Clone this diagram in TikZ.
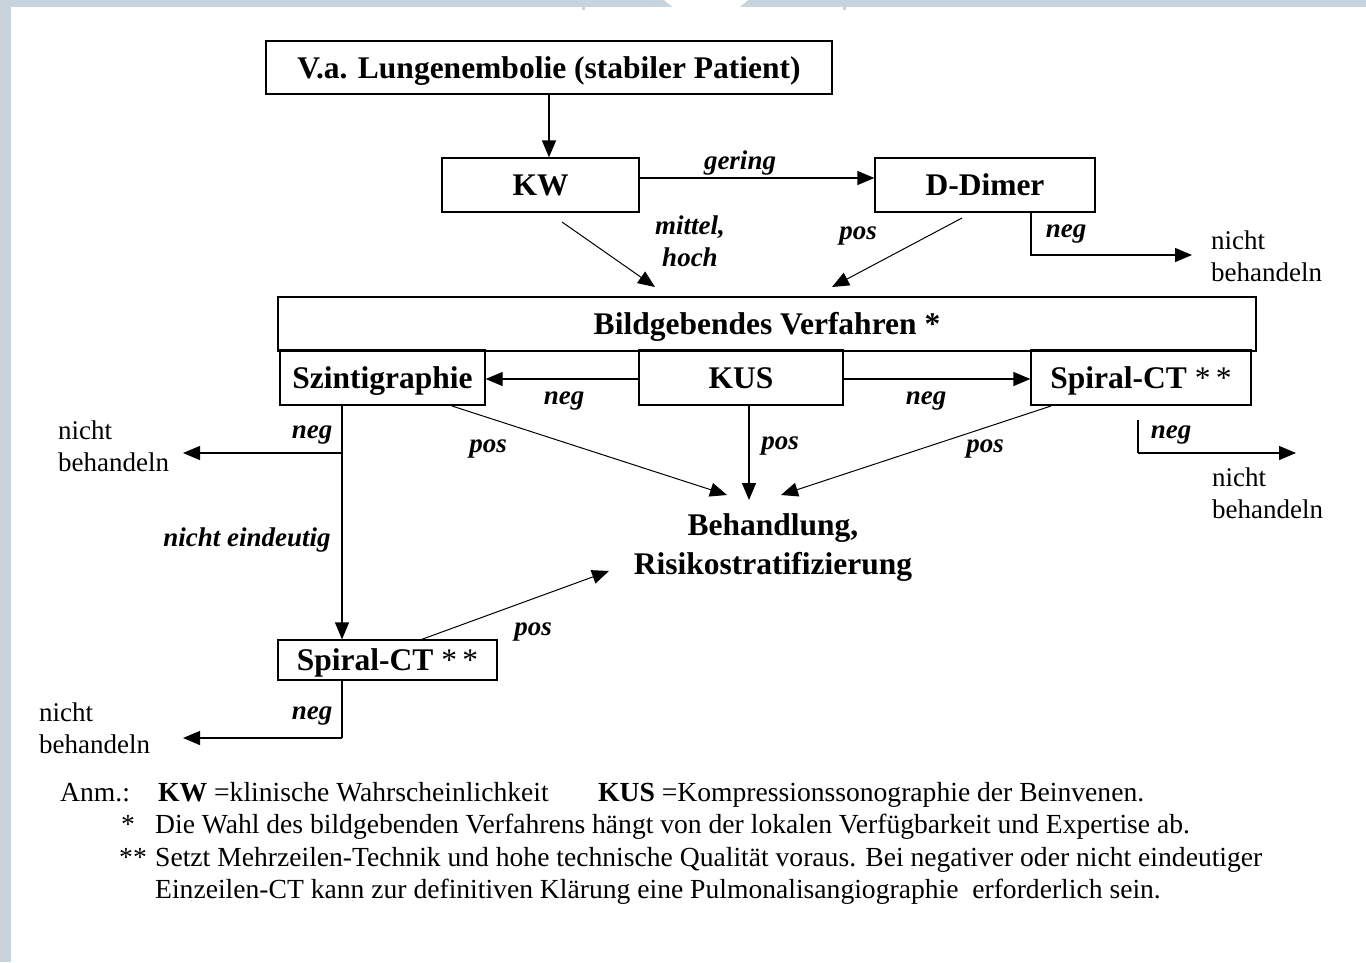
\documentclass[tikz,border=0pt]{standalone}
\usepackage{fontspec}
\setmainfont{Liberation Serif}
\usetikzlibrary{arrows.meta,calc}
\definecolor{framegray}{RGB}{201,211,219}
\tikzset{
 box/.style={draw, line width=1.3pt, inner sep=0pt, text height=21pt, text depth=0pt, font=\fontsize{31.5}{38}\selectfont\bfseries},
 lab/.style={inner sep=0pt, yshift=-3pt, font=\fontsize{27}{32}\selectfont\bfseries\itshape},
 plaintxt/.style={inner sep=0pt, align=left, anchor=west, font=\fontsize{27}{32}\selectfont},
 conn/.style={line width=1.3pt, -{Triangle[length=17pt,width=14pt]}},
 diag/.style={line width=1pt, -{Triangle[length=17pt,width=14pt]}},
 plainline/.style={line width=1.3pt},
 foot/.style={inner sep=0pt, anchor=base west, font=\fontsize{27.6}{32}\selectfont},
}
\begin{document}
\begin{tikzpicture}[x=1pt,y=-1pt]
\useasboundingbox (0,0) rectangle (1366,962);
\fill[white] (0,0) rectangle (1366,962);
% frame
\fill[framegray] (0,0) rectangle (1366,7);
\fill[framegray] (0,0) rectangle (11,962);
\fill[framegray] (582,7) rectangle (585,10);
\fill[framegray] (843,7) rectangle (846,10);
\begin{scope}
 \clip (0,0) rectangle (1366,7);
 \fill[white] (706,-43) circle (60pt);
\end{scope}

% boxes
\node[box, minimum width=566pt, minimum height=53pt] (title) at (549,67.5) {V.a. Lungenembolie (stabiler Patient)};
\node[box, minimum width=197pt, minimum height=54pt] (KW) at (540.5,185) {KW};
\node[box, minimum width=220pt, minimum height=54pt] (DD) at (985,185) {D-Dimer};
\node[box, minimum width=978pt, minimum height=54pt] (bild) at (767,324) {Bildgebendes Verfahren *};
\node[box, minimum width=205pt, minimum height=55pt] (szint) at (382.5,377.5) {Szintigraphie};
\node[box, minimum width=204pt, minimum height=55pt] (KUS) at (741,377.5) {KUS};
\node[box, minimum width=220pt, minimum height=55pt] (spiralR) at (1141,377.5) {Spiral-CT {\mdseries *\,*}};
\node[box, minimum width=219pt, minimum height=40pt] (spiralB) at (387.5,660) {Spiral-CT {\mdseries *\,*}};
\node[inner sep=0pt, align=center, font=\fontsize{31.5}{39}\selectfont\bfseries] (beh) at (773,548) {Behandlung,\\Risikostratifizierung};

% plain texts
\node[plaintxt] (nb1) at (1211,256.5) {nicht\\behandeln};
\node[plaintxt] (nb2) at (58,446.5) {nicht\\behandeln};
\node[plaintxt] (nb3) at (1212,493.5) {nicht\\behandeln};
\node[plaintxt] (nb4) at (39,728) {nicht\\behandeln};

% coordinates
\coordinate (kwA) at (562,222);
\coordinate (kwB) at (655,287);
\coordinate (ddA) at (962,218);
\coordinate (ddB) at (832,287);
\coordinate (ddN) at (1031,212);
\coordinate (ddC) at (1031,255);
\coordinate (ddT) at (1192,255);
\coordinate (szA) at (452,406);
\coordinate (szB) at (727,495);
\coordinate (kuB) at (749,500);
\coordinate (spA) at (1051,406);
\coordinate (spB) at (781,495);
\coordinate (szC) at (342,453);
\coordinate (szT) at (183,453);
\coordinate (spN) at (1138,420);
\coordinate (spC) at (1138,453);
\coordinate (spT) at (1296,453);
\coordinate (sbA) at (420,640);
\coordinate (sbB) at (609,571);
\coordinate (sbC) at (342,738);
\coordinate (sbT) at (183,738);

% connectors
\draw[conn] (title.south) -- (title.south |- KW.north);
\draw[conn] ([yshift=7pt]KW.east) -- ([yshift=7pt]DD.west);
\draw[diag] (kwA) -- (kwB);
\draw[diag] (ddA) -- (ddB);
\draw[conn] (ddN |- DD.south) -- (ddC) -- (ddT);
\draw[conn] ([yshift=-1.5pt]KUS.west) -- ([yshift=-1.5pt]szint.east);
\draw[conn] ([yshift=-1.5pt]KUS.east) -- ([yshift=-1.5pt]spiralR.west);
\draw[conn] (KUS.south -| kuB) -- (kuB);
\draw[diag] (szA) -- (szB);
\draw[diag] (spA) -- (spB);
\draw[conn] (szint.south -| szC) -- (spiralB.north -| szC);
\draw[conn] (szC) -- (szT);
\draw[plainline] (spN) -- (spC);
\draw[conn] (spC) -- (spT);
\draw[diag] (sbA) -- (sbB);
\draw[plainline] (spiralB.south -| sbC) -- (sbC);
\draw[conn] (sbC) -- (sbT);

% labels
\node[lab] (lgering) at (740,160) {gering};
\node[lab, align=center, yshift=3pt] (lmh) at (690,241) {mittel,\\hoch};
\node[lab] (lpos1) at (858,233) {pos};
\node[lab] (lneg1) at (1066,231) {neg};
\node[lab] (lneg2) at (564,398) {neg};
\node[lab] (lneg3) at (926,398) {neg};
\node[lab] (lpos2) at (488,446) {pos};
\node[lab] (lpos3) at (780,443) {pos};
\node[lab] (lpos4) at (985,446) {pos};
\node[lab] (lneg4) at (312,432) {neg};
\node[lab] (lneg5) at (1171,432) {neg};
\node[lab] (lne) at (247,537) {nicht eindeutig};
\node[lab] (lpos5) at (533,629) {pos};
\node[lab] (lneg6) at (312,713) {neg};

% footnotes
\node[foot] (f1) at (60,801) {Anm.:};
\node[foot] (f2) at (158,801) {\textbf{KW} =klinische Wahrscheinlichkeit};
\node[foot] (f3) at (598,801) {\textbf{KUS} =Kompressionssonographie der Beinvenen.};
\node[foot] (f4s) at (121,833) {*};
\node[foot] (f4) at (155,833) {Die Wahl des bildgebenden Verfahrens hängt von der lokalen Verfügbarkeit und Expertise ab.};
\node[foot] (f5s) at (119,866) {**};
\node[foot] (f5) at (155,866) {Setzt Mehrzeilen-Technik und hohe technische Qualität voraus. Bei negativer oder nicht eindeutiger};
\node[foot] (f6) at (155,898) {Einzeilen-CT kann zur definitiven Klärung eine Pulmonalisangiographie\ \ erforderlich sein.};
\end{tikzpicture}
\end{document}
